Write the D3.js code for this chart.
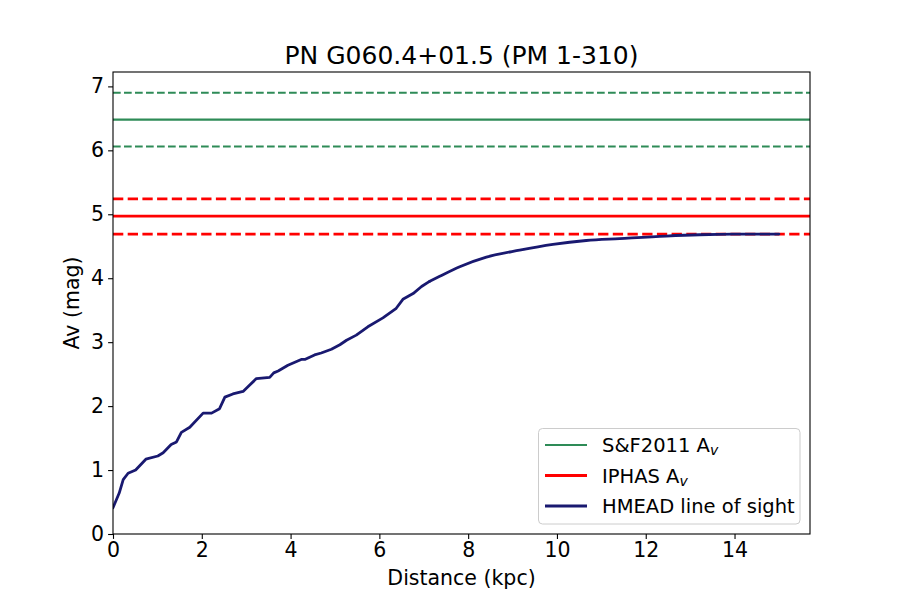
<!DOCTYPE html>
<html>
<head>
  <meta charset="utf-8">
  <script src="https://cdn.jsdelivr.net/npm/d3@7"></script>
  <style>
    body { margin: 0; background: #fff; }
    svg text { font-family: "DejaVu Sans", sans-serif; fill: #000; }
  </style>
</head>
<body>
  <div id="plot"></div>
  <script>
    // HMEAD line of sight (distance in kpc, Av in mag)
    var distance = [0.0, 0.14, 0.23, 0.34, 0.51, 0.74, 1.01, 1.13, 1.31, 1.43, 1.54, 1.73, 2.03, 2.22, 2.40,
                    2.52, 2.70, 2.93, 3.08, 3.23, 3.53, 3.62, 3.72, 3.94, 4.24, 4.32, 4.54, 4.69, 4.92, 5.11,
                    5.26, 5.48, 5.74, 6.08, 6.38, 6.53, 6.76, 6.95, 7.13, 7.36, 7.81, 8.41, 9.16, 9.91, 10.66,
                    11.41, 12.46, 13.21, 13.96, 15.0];
    var av = [0.41, 0.64, 0.85, 0.95, 1.00, 1.17, 1.22, 1.27, 1.40, 1.44, 1.59, 1.67, 1.89, 1.89, 1.96,
              2.14, 2.19, 2.23, 2.33, 2.43, 2.45, 2.52, 2.55, 2.64, 2.73, 2.73, 2.80, 2.83, 2.89, 2.96,
              3.03, 3.11, 3.24, 3.38, 3.53, 3.67, 3.76, 3.87, 3.95, 4.03, 4.18, 4.33, 4.44, 4.53, 4.59,
              4.62, 4.66, 4.68, 4.69, 4.69];

    // horizontal reference levels: [value, lower, upper]
    var sf2011 = [6.48, 6.06, 6.90];
    var iphas = [4.97, 4.69, 5.24];

    var xTicks = [0, 2, 4, 6, 8, 10, 12, 14];
    var yTicks = [0, 1, 2, 3, 4, 5, 6, 7];

    var W = 900, H = 600;
    var mLeft = 113, mRight = 810, mTop = 72, mBottom = 534;

    var svg = d3.select("#plot").append("svg")
      .attr("width", W).attr("height", H);

    var x = d3.scaleLinear().domain([0, 15.7]).range([mLeft, mRight]);
    var y = d3.scaleLinear().domain([0, 7.225]).range([mBottom, mTop]);

    var plot = svg.append("g");
    plot.append("clipPath").attr("id", "clip")
      .append("rect").attr("x", mLeft).attr("y", mTop)
      .attr("width", mRight - mLeft).attr("height", mBottom - mTop);
    var g = plot.append("g").attr("clip-path", "url(#clip)");

    function hline(v, color, width, dash) {
      g.append("line")
        .attr("x1", x(0)).attr("x2", x(15.7))
        .attr("y1", y(v)).attr("y2", y(v))
        .attr("stroke", color)
        .attr("stroke-width", width)
        .attr("stroke-dasharray", dash);
    }

    hline(sf2011[0], "#2e8b57", 2.08, null);
    hline(sf2011[1], "#2e8b57", 2.08, "7.7,3.3");
    hline(sf2011[2], "#2e8b57", 2.08, "7.7,3.3");
    hline(iphas[0], "red", 2.78, null);
    hline(iphas[1], "red", 2.78, "10.3,4.4");
    hline(iphas[2], "red", 2.78, "10.3,4.4");

    // jagged near part drawn straight, smooth far part drawn with a monotone curve
    var pts = distance.map(function(d, i) { return [d, av[i]]; });
    var split = distance.indexOf(7.13);

    var lineLin = d3.line()
      .x(function(d) { return x(d[0]); })
      .y(function(d) { return y(d[1]); });
    var lineSmooth = d3.line()
      .curve(d3.curveMonotoneX)
      .x(function(d) { return x(d[0]); })
      .y(function(d) { return y(d[1]); });

    [lineLin(pts.slice(0, split + 1)), lineSmooth(pts.slice(split))].forEach(function(p) {
      g.append("path")
        .attr("d", p)
        .attr("fill", "none")
        .attr("stroke", "#191970")
        .attr("stroke-width", 2.78)
        .attr("stroke-linejoin", "round")
        .attr("stroke-linecap", "round");
    });

    // axes
    var xAxis = d3.axisBottom(x).tickValues(xTicks).tickSize(4.9).tickPadding(4);
    var yAxis = d3.axisLeft(y).tickValues(yTicks).tickSize(4.9).tickPadding(4);

    var gx = svg.append("g").attr("transform", "translate(0," + mBottom + ")").call(xAxis);
    var gy = svg.append("g").attr("transform", "translate(" + mLeft + ",0)").call(yAxis);
    [gx, gy].forEach(function(a) {
      a.select(".domain").remove();
      a.selectAll(".tick line").attr("stroke", "#000").attr("stroke-width", 1.1);
      a.selectAll(".tick text").style("font-size", "20.5px").style("font-family", "DejaVu Sans");
    });

    svg.append("rect")
      .attr("x", mLeft).attr("y", mTop)
      .attr("width", mRight - mLeft).attr("height", mBottom - mTop)
      .attr("fill", "none").attr("stroke", "#000").attr("stroke-width", 1.1);

    // labels
    svg.append("text")
      .attr("x", (mLeft + mRight) / 2).attr("y", 64)
      .attr("text-anchor", "middle")
      .style("font-size", "25px")
      .text("PN G060.4+01.5 (PM 1-310)");

    svg.append("text")
      .attr("x", (mLeft + mRight) / 2).attr("y", 585)
      .attr("text-anchor", "middle")
      .style("font-size", "20.5px")
      .text("Distance (kpc)");

    svg.append("text")
      .attr("transform", "translate(79," + ((mTop + mBottom) / 2) + ") rotate(-90)")
      .attr("text-anchor", "middle")
      .style("font-size", "20.5px")
      .text("Av (mag)");

    // legend
    var legend = svg.append("g");
    legend.append("rect")
      .attr("x", 538.5).attr("y", 428.5)
      .attr("width", 261.5).attr("height", 95.5)
      .attr("rx", 4).attr("ry", 4)
      .attr("fill", "#fff").attr("fill-opacity", 0.8)
      .attr("stroke", "#cccccc").attr("stroke-width", 1);

    var entries = [
      { label: "S&F2011 A", sub: "v", color: "#2e8b57", width: 2.08 },
      { label: "IPHAS A", sub: "v", color: "red", width: 2.78 },
      { label: "HMEAD line of sight", sub: null, color: "#191970", width: 2.78 }
    ];
    entries.forEach(function(e, i) {
      var yy = 445 + i * 30.5;
      legend.append("line")
        .attr("x1", 545).attr("x2", 587)
        .attr("y1", yy).attr("y2", yy)
        .attr("stroke", e.color).attr("stroke-width", e.width);
      var t = legend.append("text")
        .attr("x", 602).attr("y", yy + 7)
        .style("font-size", "19.5px");
      t.append("tspan").text(e.label);
      if (e.sub) {
        t.append("tspan").attr("dy", 3).style("font-size", "14px")
          .style("font-style", "italic").text(e.sub);
      }
    });
  </script>
</body>
</html>
